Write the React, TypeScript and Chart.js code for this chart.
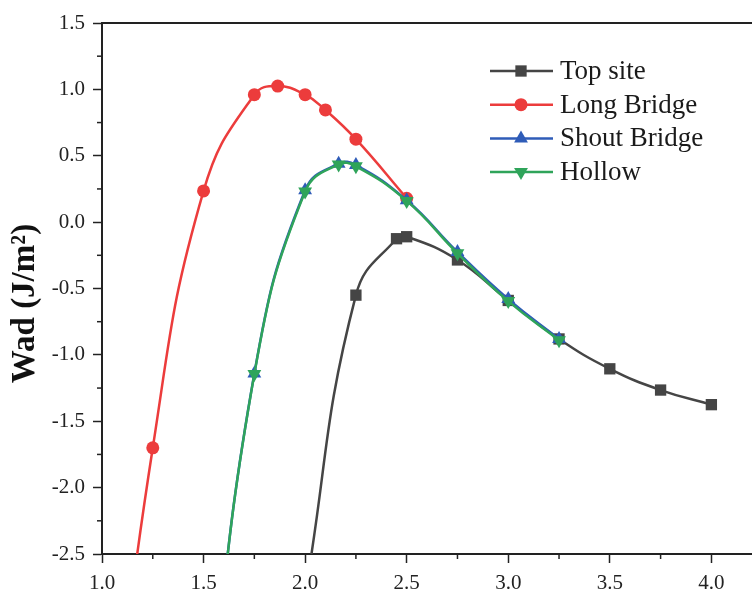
import React, { useEffect, useRef } from 'react';
import { Chart, registerables } from 'chart.js';

Chart.register(...registerables);

// ---- data ----
const seriesNames = ['Top site', 'Long Bridge', 'Shout Bridge', 'Hollow'];

const topSiteX = [2.0, 2.25, 2.45, 2.5, 2.75, 3.0, 3.25, 3.5, 3.75, 4.0];
const topSiteY = [-2.8, -0.55, -0.125, -0.11, -0.285, -0.59, -0.88, -1.105, -1.265, -1.375];

const longBridgeX = [1.0, 1.25, 1.5, 1.75, 1.865, 2.0, 2.1, 2.25, 2.5];
const longBridgeY = [-4.7, -1.7, 0.235, 0.96, 1.025, 0.96, 0.845, 0.625, 0.18];

const shoutBridgeX = [1.5, 1.75, 2.0, 2.165, 2.25, 2.5, 2.75, 3.0, 3.25];
const shoutBridgeY = [-4.1, -1.14, 0.24, 0.44, 0.43, 0.165, -0.225, -0.58, -0.88];

const hollowX = [1.5, 1.75, 2.0, 2.165, 2.25, 2.5, 2.75, 3.0, 3.25];
const hollowY = [-4.1, -1.145, 0.23, 0.435, 0.42, 0.16, -0.235, -0.595, -0.89];

const xTickValues = [1.0, 1.5, 2.0, 2.5, 3.0, 3.5, 4.0];
const yTickValues = [-2.5, -2.0, -1.5, -1.0, -0.5, 0.0, 0.5, 1.0, 1.5];

const yTitle = 'Wad (J/m²)';

const colors = ['#454545', '#ec3c3c', '#2f5cb8', '#2fa45a'];
const pointStyles: any[] = ['rect', 'circle', 'triangle', 'triangle'];
const pointRot = [0, 0, 0, 180];
const pointRad = [8, 6.5, 8, 8];

const FONT = '"Liberation Serif", "Times New Roman", serif';

const zip = (xs: number[], ys: number[]) => xs.map((x, i) => ({ x, y: ys[i] }));

const drawMarker = (ctx: CanvasRenderingContext2D, style: string, rot: number, r: number, cx: number, cy: number) => {
  ctx.beginPath();
  if (style === 'rect') {
    const s = Math.SQRT1_2 * r;
    ctx.rect(cx - s, cy - s, 2 * s, 2 * s);
  } else if (style === 'circle') {
    ctx.arc(cx, cy, r, 0, Math.PI * 2);
  } else {
    const dir = rot === 180 ? -1 : 1;
    ctx.moveTo(cx, cy - dir * r);
    ctx.lineTo(cx - r * 0.866, cy + dir * r * 0.5);
    ctx.lineTo(cx + r * 0.866, cy + dir * r * 0.5);
    ctx.closePath();
  }
  ctx.fill();
};

const decorPlugin = {
  id: 'decor',
  afterDraw(chart: any) {
    const { ctx, chartArea } = chart;
    const xs = chart.scales.x;
    const ys = chart.scales.y;
    ctx.save();
    ctx.strokeStyle = '#222';
    ctx.lineWidth = 2;
    // top border
    ctx.beginPath();
    ctx.moveTo(chartArea.left, chartArea.top);
    ctx.lineTo(chartArea.right, chartArea.top);
    ctx.stroke();
    // minor ticks
    ctx.lineWidth = 1.5;
    for (let v = 1.25; v < 4.2; v += 0.5) {
      const px = xs.getPixelForValue(v);
      ctx.beginPath();
      ctx.moveTo(px, chartArea.bottom);
      ctx.lineTo(px, chartArea.bottom + 5);
      ctx.stroke();
    }
    for (let v = -2.25; v < 1.5; v += 0.5) {
      const py = ys.getPixelForValue(v);
      ctx.beginPath();
      ctx.moveTo(chartArea.left, py);
      ctx.lineTo(chartArea.left - 5, py);
      ctx.stroke();
    }
    // y-axis title
    ctx.save();
    ctx.translate(chartArea.left - 77, (chartArea.top + chartArea.bottom) / 2 + 15);
    ctx.rotate(-Math.PI / 2);
    ctx.font = `bold 33px ${FONT}`;
    ctx.fillStyle = '#111';
    ctx.textAlign = 'center';
    ctx.textBaseline = 'middle';
    ctx.fillText(yTitle, 0, 0);
    ctx.restore();
    // legend
    const lx0 = chartArea.left + 388;
    const lx1 = chartArea.left + 451;
    const mx = chartArea.left + 419;
    const tx = chartArea.left + 458;
    const ty0 = chartArea.top + 48;
    const dy = 33.7;
    ctx.font = `27px ${FONT}`;
    ctx.textBaseline = 'middle';
    ctx.textAlign = 'left';
    seriesNames.forEach((name, i) => {
      const y = ty0 + i * dy;
      ctx.strokeStyle = colors[i];
      ctx.lineWidth = 2.5;
      ctx.beginPath();
      ctx.moveTo(lx0, y);
      ctx.lineTo(lx1, y);
      ctx.stroke();
      ctx.fillStyle = colors[i];
      drawMarker(ctx, pointStyles[i], pointRot[i], pointRad[i], mx, y);
      ctx.fillStyle = '#1a1a1a';
      ctx.fillText(name, tx, y + 1);
    });
    ctx.restore();
  },
};

export default function App() {
  const ref = useRef<HTMLCanvasElement>(null);
  useEffect(() => {
    if (!ref.current) return;
    const seriesData = [
      zip(topSiteX, topSiteY),
      zip(longBridgeX, longBridgeY),
      zip(shoutBridgeX, shoutBridgeY),
      zip(hollowX, hollowY),
    ];
    const orders = [3, 2, 1, 0];
    const chart = new Chart(ref.current, {
      type: 'line',
      data: {
        datasets: seriesNames.map((name, i) => ({
          label: name,
          data: seriesData[i],
          borderColor: colors[i],
          backgroundColor: colors[i],
          borderWidth: 2.5,
          pointStyle: pointStyles[i],
          rotation: pointRot[i],
          pointRadius: pointRad[i],
          pointBorderWidth: 0,
          pointHoverRadius: pointRad[i],
          tension: 0.45,
          order: orders[i],
          fill: false,
        })),
      },
      options: {
        animation: false,
        responsive: true,
        maintainAspectRatio: false,
        elements: { line: { capBezierPoints: false } },
        layout: { autoPadding: false, padding: { top: 23, right: 0, left: 0, bottom: 0 } },
        plugins: {
          legend: { display: false },
          tooltip: { enabled: false },
        },
        scales: {
          x: {
            type: 'linear',
            min: 1.0,
            max: 4.2,
            afterBuildTicks: (s: any) => {
              s.ticks = xTickValues.map((v) => ({ value: v }));
            },
            afterFit: (s: any) => {
              s.height = 38;
              s.paddingRight = 0;
              s.paddingLeft = 0;
            },
            border: { color: '#222', width: 2 },
            grid: { drawOnChartArea: false, drawTicks: true, tickLength: 9, tickColor: '#222', tickWidth: 1.5 },
            ticks: {
              color: '#222',
              padding: 8,
              maxRotation: 0,
              autoSkip: false,
              font: { family: FONT, size: 21 },
              callback: (v: any) => Number(v).toFixed(1),
            },
          },
          y: {
            type: 'linear',
            min: -2.5,
            max: 1.5,
            afterBuildTicks: (s: any) => {
              s.ticks = yTickValues.map((v) => ({ value: v }));
            },
            afterFit: (s: any) => {
              s.width = 102;
            },
            border: { color: '#222', width: 2 },
            grid: { drawOnChartArea: false, drawTicks: true, tickLength: 9, tickColor: '#222', tickWidth: 1.5 },
            ticks: {
              color: '#222',
              padding: 8,
              autoSkip: false,
              font: { family: FONT, size: 21 },
              callback: (v: any) => Number(v).toFixed(1),
            },
          },
        },
      },
      plugins: [decorPlugin],
    });
    return () => chart.destroy();
  }, []);

  return (
    <div style={{ position: 'fixed', left: 0, top: 0, width: 752, height: 592, background: '#fff', overflow: 'hidden' }}>
      <canvas ref={ref} />
    </div>
  );
}
